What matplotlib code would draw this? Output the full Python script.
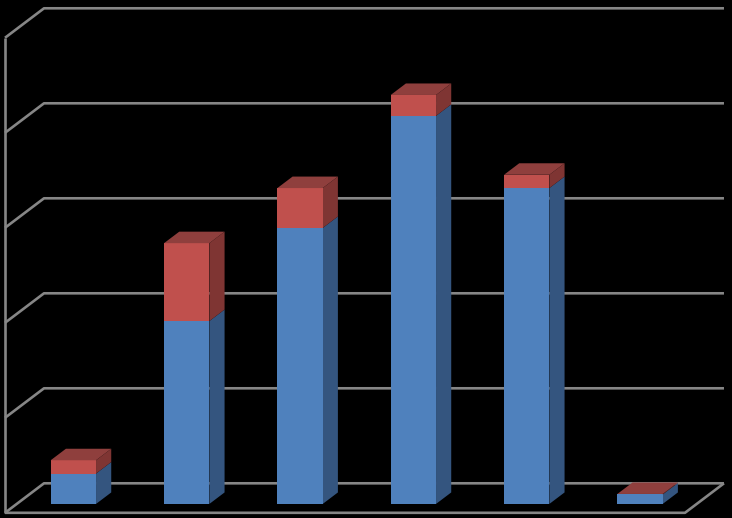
import matplotlib
matplotlib.use('Agg')
import matplotlib.pyplot as plt

# values (no labels in the original)
positions = [0, 1, 2, 3, 4, 5]
blue_values = [6.4, 38.5, 58.1, 81.7, 66.5, 2.0]
red_values = [2.8, 16.4, 8.4, 4.4, 2.8, 0.1]
grid_values = [0, 20, 40, 60, 80, 100]

# fake 3d: oblique shift for the depth direction
depth_x = 39 / 113.33
depth_y = 29.5 / 4.75
bar_width = 0.4
bar_front = 0.3
bar_back = 0.69


def project(x, v, d):
    return x + d * depth_x, v + d * depth_y


def face(ax, corners, color, z):
    pts = [project(*c) for c in corners]
    ax.fill([p[0] for p in pts], [p[1] for p in pts], color=color, lw=0, zorder=z)


def draw_block(ax, x, low, high, front, side, z):
    x0, x1 = x - bar_width / 2, x + bar_width / 2
    face(ax, [(x1, low, bar_front), (x1, low, bar_back), (x1, high, bar_back), (x1, high, bar_front)], side, z)
    face(ax, [(x0, low, bar_front), (x1, low, bar_front), (x1, high, bar_front), (x0, high, bar_front)], front, z)


fig = plt.figure(figsize=(7.32, 5.18), dpi=100, facecolor='black')
ax = fig.add_axes([0, 0, 1, 1])
ax.set_facecolor('black')
xmin = -0.5 - 5 / 113.33
ax.set_xlim(xmin, xmin + 732 / 113.33)
ax.set_ylim(-(518 - 512.8) / 4.75, 512.8 / 4.75)
ax.axis('off')

# walls and floor
grid_color = '#868686'
line_style = dict(color=grid_color, lw=1.9, zorder=1, solid_capstyle='butt')
left, right = positions[0] - 0.5, positions[-1] + 0.5
for v in grid_values:
    pts = [project(left, v, 0), project(left, v, 1), project(right, v, 1)]
    ax.plot([p[0] for p in pts], [p[1] for p in pts], **line_style)
ax.plot([left, left], [grid_values[0], grid_values[-1]], **line_style)
floor_end = project(right, grid_values[0], 1)
ax.plot([left, right, floor_end[0]], [grid_values[0], grid_values[0], floor_end[1]], **line_style)

for x, b, r in zip(positions, blue_values, red_values):
    draw_block(ax, x, 0, b, '#4F81BD', '#34557F', 2)
    draw_block(ax, x, b, b + r, '#C0504D', '#7F3533', 3)
    top = b + r
    x0, x1 = x - bar_width / 2, x + bar_width / 2
    face(ax, [(x0, top, bar_front), (x1, top, bar_front), (x1, top, bar_back), (x0, top, bar_back)], '#8F3F3D', 4)

fig.savefig('out.png', dpi=100, facecolor='black')
